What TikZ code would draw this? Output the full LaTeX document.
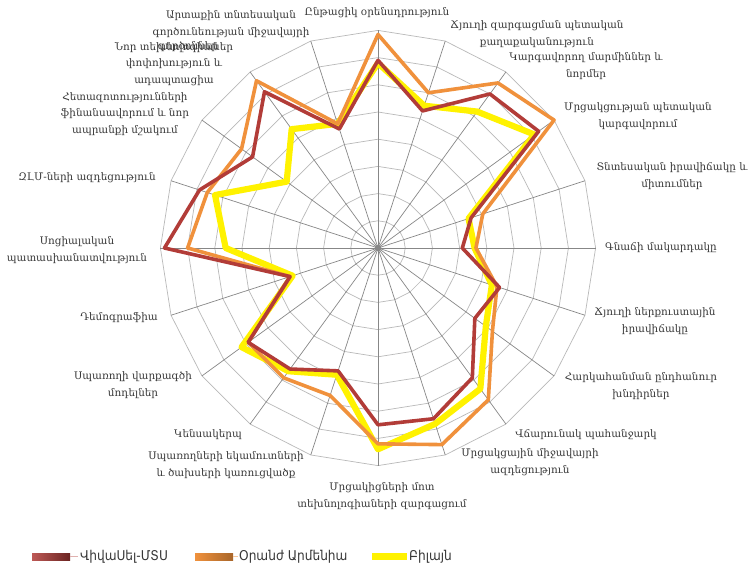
\documentclass[tikz,border=0pt]{standalone}
\usepackage{fontspec}
\setmainfont{DejaVu Serif}
\newfontfamily\legfont{DejaVu Sans}[FakeStretch=0.9]
\definecolor{redS}{RGB}{178,60,56}
\definecolor{orS}{RGB}{240,145,60}
\definecolor{yelS}{RGB}{255,242,0}
\definecolor{ringC}{RGB}{185,185,185}
\definecolor{spokeC}{RGB}{135,135,135}
\definecolor{txtC}{RGB}{55,55,55}
\tikzset{
  ring/.style={draw=ringC, line width=0.7pt},
  spoke/.style={draw=spokeC, line width=0.7pt},
  ser/.style={line width=3.6pt, line join=round},
  lab/.style={font=\fontsize{10.4}{16.5}\selectfont, text=txtC, align=center, inner sep=0pt},
  leg/.style={font=\legfont\fontsize{13.5}{15}\selectfont, text=txtC, anchor=west, inner sep=0pt}
}
\begin{document}
\begin{tikzpicture}[x=1pt,y=1pt]
\useasboundingbox (0,0) rectangle (754,574);
\fill[white] (0,0) rectangle (754,574);
\begin{scope}[shift={(378,326)}, scale=27.2]
  \foreach \i in {1,...,8}{
    \draw[ring] (90:\i) \foreach \k in {1,...,19}{ -- ({90-18*\k}:\i) } -- cycle;
  }
  \foreach \k in {0,...,19}{
    \draw[spoke] (0,0) -- ({90-18*\k}:8);
  }
  \fill[spokeC] (0,0) circle (0.12);
  % Beeline
  \draw[ser, yelS, line width=6.2pt] (90:6.8) -- (72:5.5) -- (54:6.2) -- (36:7.1) -- (18:3.5) -- (0:3.55) -- (-18:4.4) -- (-36:4.9) -- (-54:6.4) -- (-72:6.8) -- (-90:7.4) -- (-108:4.9) -- (-126:5.6) -- (-144:6.2) -- (-162:3.3) -- (180:5.6) -- (162:6.3) -- (144:4.15) -- (126:5.4) -- (108:4.8) -- cycle;
  % Orange
  \draw[ser, orS] (90:7.85) -- (72:6.0) -- (54:7.5) -- (36:8.0) -- (18:4.05) -- (0:3.6) -- (-18:4.6) -- (-36:5.2) -- (-54:6.9) -- (-72:7.6) -- (-90:7.2) -- (-108:5.7) -- (-126:5.9) -- (-144:5.9) -- (-162:3.4) -- (180:7.0) -- (162:6.6) -- (144:6.2) -- (126:7.6) -- (108:4.8) -- cycle;
  % VivaCell
  \draw[ser, redS] (90:6.9) -- (72:5.3) -- (54:7.0) -- (36:7.3) -- (18:3.6) -- (0:3.1) -- (-18:4.7) -- (-36:4.4) -- (-54:5.9) -- (-72:6.6) -- (-90:6.5) -- (-108:4.75) -- (-126:5.5) -- (-144:5.9) -- (-162:3.4) -- (180:7.85) -- (162:6.9) -- (144:5.7) -- (126:7.1) -- (108:4.6) -- cycle;
\end{scope}
% axis labels
\node[lab] (l0) at (377,561) {Ընթացիկ օրենսդրություն};
\node[lab] (l1) at (537,540) {Ճյուղի զարգացման պետական\\քաղաքականություն};
\node[lab] (l2) at (586,508) {Կարգավորող մարմիններ և\\նորմեր};
\node[lab] (l3) at (638,458) {Մրցակցության պետական\\կարգավորում};
\node[lab] (l4) at (672,398) {Տնտեսական իրավիճակը և\\միտումներ};
\node[lab] (l5) at (661,326) {Գնաճի մակարդակը};
\node[lab] (l6) at (655,253) {Ճյուղի ներքուստային\\իրավիճակը};
\node[lab] (l7) at (641,188) {Հարկահանման ընդհանուր\\խնդիրներ};
\node[lab] (l8) at (586,139) {Վճարունակ պահանջարկ};
\node[lab] (l9) at (530,112) {Մրցակցային միջավայրի\\ազդեցություն};
\node[lab] (l10) at (382,78) {Մրցակիցների մոտ\\տեխնոլոգիաների զարգացում};
\node[lab] (l11) at (226,109) {Սպառողների եկամուտների\\և ծախսերի կառուցվածք};
\node[lab] (l12) at (208,139) {Կենսակերպ};
\node[lab] (l13) at (133,189) {Սպառողի վարքագծի\\մոդելներ};
\node[lab] (l14) at (119,256) {Դեմոգրաֆիա};
\node[lab] (l15) at (77,324) {Սոցիալական\\պատասխանատվություն};
\node[lab] (l16) at (87,396) {ԶԼՄ-ների ազդեցություն};
\node[lab] (l17) at (125,460) {Հետազոտությունների\\ֆինանսավորում և նոր\\ապրանքի մշակում};
\node[lab] (l18) at (174,510) {Նոր տեխնոլոգիաներ\\փոփոխություն և\\ադապտացիա};
\node[lab] (l19) at (231,550) {Արտաքին տնտեսական\\գործունեության միջավայրի};
\node[lab] (l19b) at (188,527) {գործոններ};
% legend
\shade[left color=redS!85!white, right color=redS!60!black] (32,14) rectangle (70,21);
\draw[redS!40!white, line width=0.6pt] (70,17.5) -- (78,17.5);
\node[leg] (g1) at (80,17.5) {ՎիվաՍել-ՄՏՍ};
\shade[left color=orS, right color=orS!70!black] (195,14) rectangle (233,21);
\draw[orS!50!white, line width=0.6pt] (233,17.5) -- (238,17.5);
\node[leg] (g2) at (239,17.5) {Օրանժ Արմենիա};
\fill[yelS] (372,14) rectangle (407,21);
\node[leg] (g3) at (409,17.5) {Բիլայն};
\end{tikzpicture}
\end{document}
